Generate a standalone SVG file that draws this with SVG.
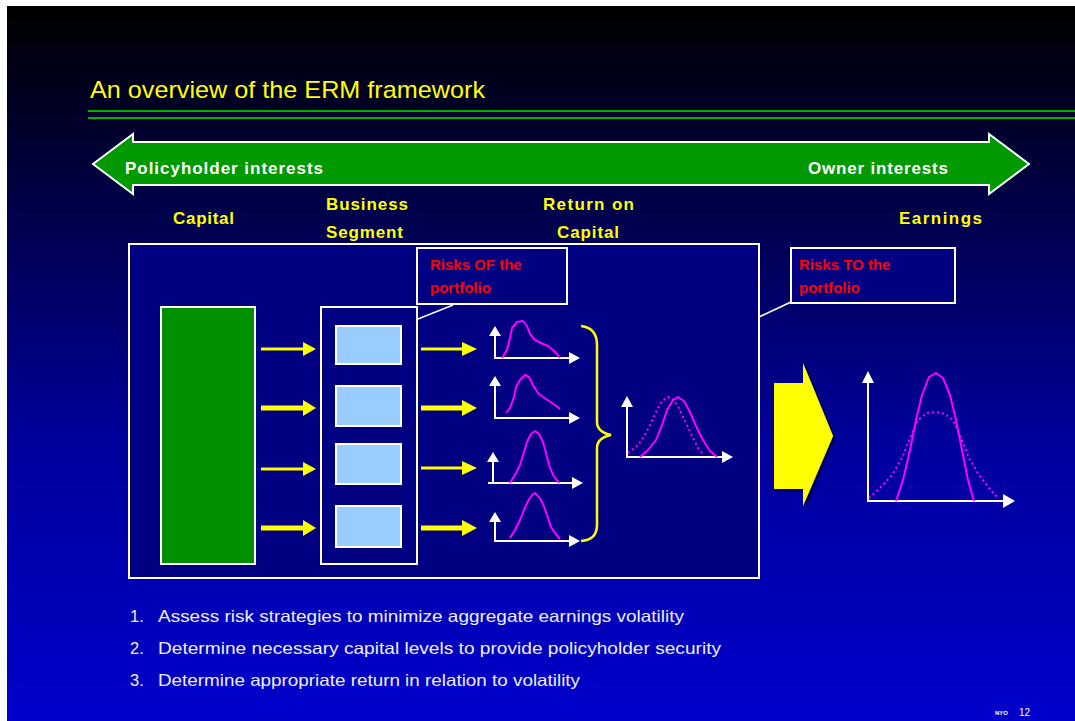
<svg xmlns="http://www.w3.org/2000/svg" width="1075" height="721" viewBox="0 0 1075 721">
<defs>
<linearGradient id="bg" x1="0" y1="0" x2="0" y2="1">
<stop offset="0" stop-color="#000000"/>
<stop offset="0.3" stop-color="#00004e"/>
<stop offset="0.6" stop-color="#00009a"/>
<stop offset="1" stop-color="#0000cc"/>
</linearGradient>
<filter id="sh" x="-20%" y="-20%" width="140%" height="140%">
<feDropShadow dx="2" dy="2" stdDeviation="1" flood-color="#000033" flood-opacity="0.8"/>
</filter>
</defs>
<style>
.lbl{font-family:"Liberation Sans",Arial,sans-serif;font-weight:bold;font-size:17px;fill:#ffff00}
.band{font-family:"Liberation Sans",Arial,sans-serif;font-weight:bold;font-size:17px;fill:#ffffff}
.risk{font-family:"Liberation Sans",Arial,sans-serif;font-weight:bold;font-size:15px;fill:#ff0000}
.list{font-family:"Liberation Sans",Arial,sans-serif;font-size:16.5px;fill:#eeeeff}
.ax{stroke:#ffffff;stroke-width:2;fill:none}
.cv{stroke:#ff00ff;stroke-width:2;fill:none;stroke-linejoin:round}
.dot{stroke:#ff00ff;stroke-width:2;fill:none;stroke-dasharray:2 3}
.box{stroke:#ffffff;stroke-width:2}
.ya{stroke:#ffff00;fill:none}
.yh{fill:#ffff00}
</style>
<rect x="0" y="0" width="1075" height="721" fill="#ffffff"/>
<rect x="7" y="6" width="1068" height="715" fill="url(#bg)"/>

<g id="title">
<text x="90" y="98" font-family="Liberation Sans, Arial, sans-serif" font-size="24" fill="#ffff00" textLength="395" lengthAdjust="spacingAndGlyphs">An overview of the ERM framework</text>
<rect x="88" y="110" width="987" height="2" fill="#00b000"/>
<rect x="88" y="117" width="987" height="2" fill="#00b000"/>
</g>

<g id="interests-band">
<polygon points="93,164 133,134 133,142 989,142 989,134 1029,164 989,194 989,185 133,185 133,194" fill="#009900" stroke="#ffffff" stroke-width="2"/>
<text class="band" x="125" y="174" textLength="198">Policyholder interests</text>
<text class="band" x="808" y="174" textLength="140">Owner interests</text>
</g>

<g id="headers">
<text class="lbl" x="173" y="224" textLength="61">Capital</text>
<text class="lbl" x="326" y="210" textLength="82">Business</text>
<text class="lbl" x="326" y="238" textLength="77">Segment</text>
<text class="lbl" x="543" y="210" textLength="91">Return on</text>
<text class="lbl" x="557" y="238" textLength="62">Capital</text>
<text class="lbl" x="899" y="224" textLength="83">Earnings</text>
</g>

<g id="frame">
<rect x="129" y="244" width="630" height="334" fill="#000080" stroke="#ffffff" stroke-width="2"/>
</g>

<g id="capital">
<rect class="box" x="161" y="307" width="94" height="257" fill="#009000"/>
</g>

<g id="segments">
<rect class="box" x="321" y="307" width="96" height="257" fill="#000080"/>
<rect class="box" x="336" y="326" width="65" height="38" fill="#99ccff"/>
<rect class="box" x="336" y="386" width="65" height="40" fill="#99ccff"/>
<rect class="box" x="336" y="444" width="65" height="40" fill="#99ccff"/>
<rect class="box" x="336" y="506" width="65" height="41" fill="#99ccff"/>
</g>

<g id="risks-of">
<rect class="box" x="417" y="248" width="150" height="56" fill="#000080"/>
<text class="risk" x="430" y="270">Risks OF the</text>
<text class="risk" x="430" y="293">portfolio</text>
</g>

<g id="risks-to">
<rect class="box" x="791" y="248" width="164" height="55" fill="#000080"/>
<text class="risk" x="799" y="270">Risks TO the</text>
<text class="risk" x="799" y="293">portfolio</text>
</g>

<g id="connectors">
<line x1="453" y1="305" x2="418" y2="319" stroke="#ffffff" stroke-width="1.5"/>
<line x1="791" y1="302" x2="759" y2="317" stroke="#ffffff" stroke-width="1.5"/>
<line class="ya" x1="261" y1="349" x2="304" y2="349" stroke-width="3"/>
<polygon class="yh" points="303,342 316,349 303,356"/>
<line class="ya" x1="261" y1="408" x2="304" y2="408" stroke-width="5"/>
<polygon class="yh" points="303,400 316,408 303,416"/>
<line class="ya" x1="261" y1="469" x2="304" y2="469" stroke-width="3"/>
<polygon class="yh" points="303,462 316,469 303,476"/>
<line class="ya" x1="261" y1="528" x2="304" y2="528" stroke-width="5"/>
<polygon class="yh" points="303,520 316,528 303,536"/>
<line class="ya" x1="421" y1="349" x2="463" y2="349" stroke-width="3"/>
<polygon class="yh" points="462,342 477,349 462,356"/>
<line class="ya" x1="421" y1="408" x2="463" y2="408" stroke-width="5"/>
<polygon class="yh" points="462,400 477,408 462,416"/>
<line class="ya" x1="421" y1="468" x2="463" y2="468" stroke-width="3"/>
<polygon class="yh" points="462,461 477,468 462,475"/>
<line class="ya" x1="421" y1="528" x2="463" y2="528" stroke-width="5"/>
<polygon class="yh" points="462,520 477,528 462,536"/>
<path d="M581,326 Q597,328 597,345 L597,422 Q597,432 611,435 Q597,438 597,448 L597,525 Q597,540 581,541" stroke="#ffff00" stroke-width="2.5" fill="none"/>
<polygon points="774,383 803,383 803,363 833,436 803,506 803,489 774,489" fill="#ffff00" filter="url(#sh)"/>
</g>

<g id="chart1">
<polyline class="ax" points="495,334 495,358 572,358"/>
<polygon points="489,336 495,326 501,336" fill="#ffffff"/>
<polygon points="569,352 580,358 569,364" fill="#ffffff"/>
<polyline class="cv" points="502,358 507,350 510,338 512,328 517,322 523,321 527,326 530,334 535,340 541,343 548,346 553,350 557,354 560,358"/>
</g>
<g id="chart2">
<polyline class="ax" points="495,384 495,418 572,418"/>
<polygon points="489,386 495,376 501,386" fill="#ffffff"/>
<polygon points="569,412 580,418 569,424" fill="#ffffff"/>
<polyline class="cv" points="506,413 510,408 514,397 516,387 520,380 525,375 529,377 533,385 538,393 543,397 549,401 555,405 560,409"/>
</g>
<g id="chart3">
<polyline class="ax" points="493,460 493,483 575,483"/>
<line class="ax" x1="488" y1="483" x2="493" y2="483"/>
<polygon points="487,462 493,452 499,462" fill="#ffffff"/>
<polygon points="572,477 583,483 572,489" fill="#ffffff"/>
<polyline class="cv" points="510,483 515,475 520,465 524,452 527,442 531,434 535,431 539,434 543,442 546,453 549,465 553,475 559,483"/>
</g>
<g id="chart4">
<polyline class="ax" points="495,520 495,541 572,541"/>
<polygon points="489,522 495,512 501,522" fill="#ffffff"/>
<polygon points="569,535 580,541 569,547" fill="#ffffff"/>
<polyline class="cv" points="510,538 515,530 520,520 524,510 528,501 532,495 535,493 539,497 543,504 547,515 551,527 555,533 560,539"/>
</g>
<g id="chart-aggregate">
<polyline class="ax" points="627,405 627,457 725,457"/>
<polygon points="621,407 627,396 633,407" fill="#ffffff"/>
<polygon points="722,451 733,457 722,463" fill="#ffffff"/>
<polyline class="dot" points="628,453 636,447 644,437 650,425 656,412 662,401 668,397 674,400 680,410 686,423 692,436 698,448 703,454"/>
<polyline class="cv" points="640,457 648,450 656,440 662,425 667,410 673,400 678,397 684,401 690,412 696,426 703,440 710,451 717,457"/>
</g>
<g id="chart-earnings">
<polyline class="ax" points="868,381 868,501 1006,501"/>
<polygon points="862,383 868,371 874,383" fill="#ffffff"/>
<polygon points="1003,494 1015,501 1003,508" fill="#ffffff"/>
<polyline class="dot" points="869,498 880,488 892,475 902,458 910,438 918,420 927,413 936,412 945,414 953,420 961,438 969,458 979,475 989,488 998,498"/>
<polyline class="cv" points="896,501 903,480 910,450 916,420 922,395 929,377 936,373 943,378 950,395 956,420 962,450 968,480 974,501"/>
</g>

<g id="list">
<text class="list" x="130" y="622">1.</text>
<text class="list" x="158" y="622" textLength="526" lengthAdjust="spacingAndGlyphs">Assess risk strategies to minimize aggregate earnings volatility</text>
<text class="list" x="130" y="654">2.</text>
<text class="list" x="158" y="654" textLength="563" lengthAdjust="spacingAndGlyphs">Determine necessary capital levels to provide policyholder security</text>
<text class="list" x="130" y="686">3.</text>
<text class="list" x="158" y="686" textLength="422" lengthAdjust="spacingAndGlyphs">Determine appropriate return in relation to volatility</text>
</g>

<g id="footer">
<text x="995" y="715" font-family="Liberation Sans, Arial, sans-serif" font-size="6" font-weight="bold" fill="#ffffff">NYO</text>
<text x="1019" y="716" font-family="Liberation Sans, Arial, sans-serif" font-size="10" fill="#ffffff">12</text>
</g>
</svg>
